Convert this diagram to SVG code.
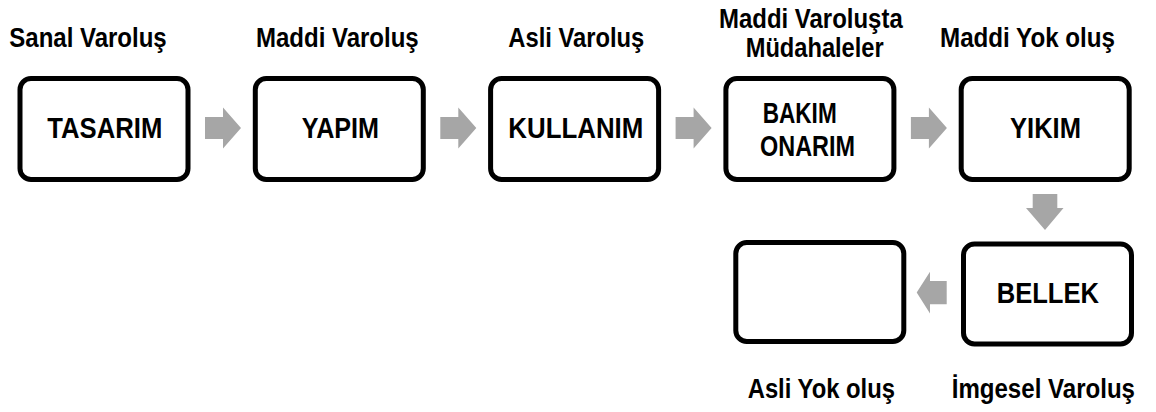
<svg xmlns="http://www.w3.org/2000/svg" width="1156" height="412" viewBox="0 0 1156 412">
<style>
.box{fill:#fff;stroke:#000;stroke-width:5}
.lbl{font-family:"Liberation Sans",Arial,sans-serif;font-weight:bold;font-size:28px;fill:#000}
.txt{font-family:"Liberation Sans",Arial,sans-serif;font-weight:bold;font-size:29px;fill:#000}
.arr{fill:#a6a6a6}
</style>
<rect width="1156" height="412" fill="#fff"/>
<g id="labels">
<text class="lbl" x="9.3" y="46.7" textLength="157.4" lengthAdjust="spacingAndGlyphs">Sanal Varoluş</text>
<text class="lbl" x="256" y="46.7" textLength="162.7" lengthAdjust="spacingAndGlyphs">Maddi Varoluş</text>
<text class="lbl" x="508.3" y="46.5" textLength="136" lengthAdjust="spacingAndGlyphs">Asli Varoluş</text>
<text class="lbl" x="719" y="27.5" textLength="183.7" lengthAdjust="spacingAndGlyphs">Maddi Varoluşta</text>
<text class="lbl" x="745.7" y="57.3" textLength="138" lengthAdjust="spacingAndGlyphs">Müdahaleler</text>
<text class="lbl" x="940" y="46.7" textLength="175" lengthAdjust="spacingAndGlyphs">Maddi Yok oluş</text>
<text class="lbl" x="747.7" y="398.3" textLength="147.3" lengthAdjust="spacingAndGlyphs">Asli Yok oluş</text>
<text class="lbl" x="951.7" y="398.3" textLength="183.3" lengthAdjust="spacingAndGlyphs">İmgesel Varoluş</text>
</g>
<g id="tasarim">
<rect class="box" x="20" y="78.5" width="168" height="101" rx="11"/>
<text class="txt" x="47.3" y="138.3" textLength="115" lengthAdjust="spacingAndGlyphs">TASARIM</text>
</g>
<g id="yapim">
<rect class="box" x="255.3" y="78.5" width="168" height="101" rx="11"/>
<text class="txt" x="301.7" y="138.3" textLength="77.3" lengthAdjust="spacingAndGlyphs">YAPIM</text>
</g>
<g id="kullanim">
<rect class="box" x="490.6" y="78.5" width="168" height="101" rx="11"/>
<text class="txt" x="508.3" y="138.3" textLength="135" lengthAdjust="spacingAndGlyphs">KULLANIM</text>
</g>
<g id="bakim-onarim">
<rect class="box" x="725.9" y="78.5" width="168" height="101" rx="11"/>
<text class="txt" x="762.7" y="123.3" textLength="74" lengthAdjust="spacingAndGlyphs">BAKIM</text>
<text class="txt" x="760" y="155.7" textLength="95" lengthAdjust="spacingAndGlyphs">ONARIM</text>
</g>
<g id="yikim">
<rect class="box" x="961.2" y="78.5" width="168" height="101" rx="11"/>
<text class="txt" x="1010" y="137.8" textLength="71" lengthAdjust="spacingAndGlyphs">YIKIM</text>
</g>
<g id="bellek">
<rect class="box" x="963.5" y="244" width="168" height="100" rx="11"/>
<text class="txt" x="996.7" y="303.3" textLength="102.3" lengthAdjust="spacingAndGlyphs">BELLEK</text>
</g>
<g id="blank">
<rect class="box" x="735.8" y="242.5" width="168" height="99" rx="11"/>
</g>
<g id="connectors">
<polygon class="arr" points="205,117 223,117 223,107.5 241,128 223,148.5 223,139 205,139"/>
<polygon class="arr" points="440.3,117 458.3,117 458.3,107.5 476.3,128 458.3,148.5 458.3,139 440.3,139"/>
<polygon class="arr" points="675.6,117 693.6,117 693.6,107.5 711.6,128 693.6,148.5 693.6,139 675.6,139"/>
<polygon class="arr" points="910.9,117 928.9,117 928.9,107.5 946.9,128 928.9,148.5 928.9,139 910.9,139"/>
<polygon class="arr" points="1032.7,194 1057.3,194 1057.3,208 1063.5,208 1045,230 1026,208 1032.7,208"/>
<polygon class="arr" points="946.7,281 946.7,304.3 930,304.3 930,313.5 916.7,292.5 930,271.7 930,281"/>
</g>
</svg>
